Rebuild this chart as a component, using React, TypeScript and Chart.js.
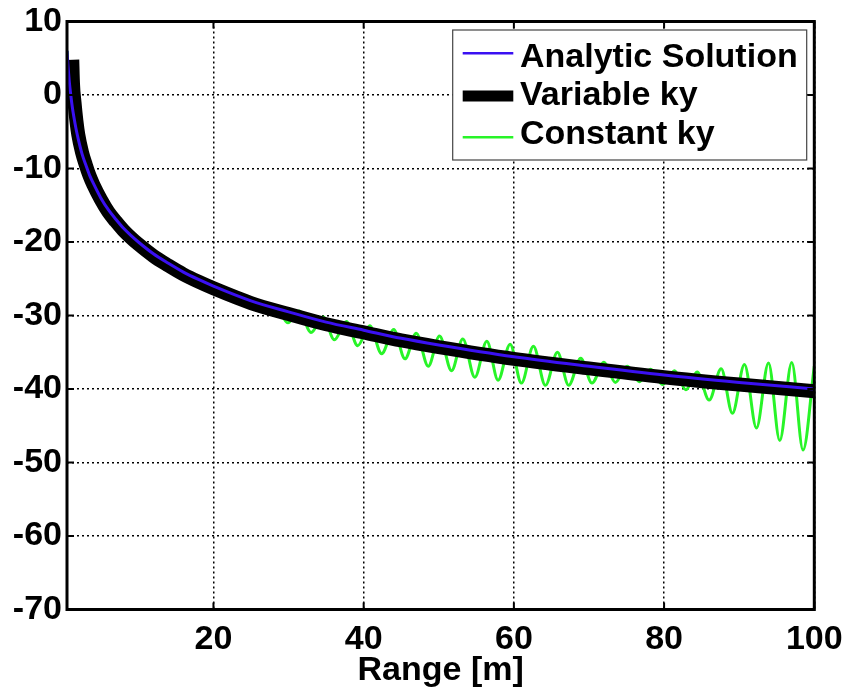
import React, { useEffect, useRef } from "react";
import { Chart, registerables } from "chart.js";

Chart.register(...registerables);

// ---- data ----
const X_TICKS = [20, 40, 60, 80, 100];
const Y_TICKS = [-70, -60, -50, -40, -30, -20, -10, 0, 10];
const X_TITLE = "Range [m]";
const LEGEND_LABELS = ["Analytic Solution", "Variable ky", "Constant ky"];

const analyticRange = [0.5, 0.6, 0.7, 0.8, 0.9, 1, 1.2, 1.4, 1.7, 2, 2.5, 3, 3.5, 4, 5, 6, 7, 8, 9, 10, 12, 14, 16, 18, 20, 25, 30, 35, 40, 45, 50, 60, 70, 80, 90, 100];
const analyticLevel = [6.0, 4.4, 3.1, 1.9, 0.9, 0.0, -1.6, -2.9, -4.6, -6.0, -8.0, -9.5, -10.9, -12.0, -14.0, -15.6, -16.9, -18.1, -19.1, -20.0, -21.6, -22.9, -24.1, -25.1, -26.0, -28.0, -29.5, -30.9, -32.0, -33.1, -34.0, -35.6, -36.9, -38.1, -39.1, -40.0];

const variableRange = [1.2, 1.3, 1.5, 1.75, 2, 2.5, 3, 3.5, 4, 5, 6, 7, 8, 9, 10, 12, 14, 16, 18, 20, 25, 30, 35, 40, 45, 50, 60, 70, 80, 90, 100];
const variableLevel = [4.8, 1.5, -1.0, -3.5, -5.4, -7.8, -9.5, -11.0, -12.2, -14.2, -15.9, -17.2, -18.4, -19.4, -20.3, -21.9, -23.2, -24.4, -25.4, -26.3, -28.3, -29.8, -31.2, -32.3, -33.4, -34.3, -35.9, -37.2, -38.4, -39.4, -40.3];

const constantRange = [0.5, 0.7, 1, 1.4, 2, 3, 4, 6, 8, 10, 14, 18, 22,
  25.2, 26.8, 28.3,
  29.9, 31.4, 33.0, 34.6, 36.1, 37.7, 39.2, 40.8, 42.4, 44.0, 45.5, 47.0, 48.6, 50.1,
  51.7, 53.2, 54.8, 56.4, 57.9, 59.5, 61.0, 62.6, 64.2, 65.8, 67.3, 68.9, 70.4, 72.0,
  73.5, 75.1, 76.7, 78.2, 79.8, 81.4, 82.9, 84.4, 86.0, 87.6, 89.1, 90.7, 92.3, 93.9,
  95.4, 97.0, 98.5, 100];
const constantLevel = [6.0, 3.1, 0.0, -2.9, -6.0, -9.5, -12.0, -15.6, -18.1, -20.0, -22.9, -25.1, -26.8,
  -27.9, -29.4, -28.75,
  -31.0, -29.4, -32.3, -30.2, -33.3, -30.8, -34.1, -31.4, -35.2, -31.9, -35.9, -32.4, -36.9, -32.8,
  -37.5, -33.2, -38.4, -33.5, -38.8, -33.9, -39.2, -34.2, -39.5, -35.0, -39.5, -35.8, -39.2, -36.35,
  -39.1, -36.9, -39.0, -37.3, -39.4, -37.5, -40.1, -37.7, -41.5, -37.25, -43.3, -36.65, -45.3, -36.45,
  -47.0, -36.4, -48.3, -36.9];

// ---- styles ----
const BLUE = "#3a10f2";
const BLACK = "#000000";
const GREEN = "#28f428";
const FONT_FAMILY = '"Liberation Sans", Arial, Helvetica, sans-serif';
const FONT_SIZE = 34;

const toPoints = (xs: number[], ys: number[]) => xs.map((x, i) => ({ x, y: ys[i] }));

const framePlugin = {
  id: "matlabFrame",
  afterDraw(chart: any) {
    const { ctx, chartArea: a, scales } = chart;
    ctx.save();
    // inward tick marks on all four sides
    ctx.strokeStyle = "#000";
    ctx.lineWidth = 2;
    ctx.setLineDash([]);
    ctx.beginPath();
    X_TICKS.forEach((v) => {
      const px = scales.x.getPixelForValue(v);
      ctx.moveTo(px, a.bottom);
      ctx.lineTo(px, a.bottom - 7);
      ctx.moveTo(px, a.top);
      ctx.lineTo(px, a.top + 7);
    });
    Y_TICKS.forEach((v) => {
      const py = scales.y.getPixelForValue(v);
      ctx.moveTo(a.left, py);
      ctx.lineTo(a.left + 7, py);
      ctx.moveTo(a.right, py);
      ctx.lineTo(a.right - 7, py);
    });
    ctx.stroke();
    // box
    ctx.lineWidth = 3;
    ctx.strokeRect(a.left, a.top, a.right - a.left, a.bottom - a.top);

    // x-axis title
    ctx.font = `bold ${FONT_SIZE}px ${FONT_FAMILY}`;
    ctx.fillStyle = "#000";
    ctx.textAlign = "center";
    ctx.textBaseline = "alphabetic";
    ctx.fillText(X_TITLE, (a.left + a.right) / 2, 680);

    // legend
    const bx = a.right - 361.6;
    const by = a.top + 8.5;
    const bw = 354;
    const bh = 130;
    ctx.fillStyle = "#fff";
    ctx.fillRect(bx, by, bw, bh);
    ctx.strokeStyle = "#444";
    ctx.lineWidth = 1.2;
    ctx.strokeRect(bx, by, bw, bh);
    const colors = [BLUE, BLACK, GREEN];
    const widths = [2.5, 11, 2.5];
    const lineY = [23.3, 66, 107.3];
    const textY = [36.7, 75, 113.5];
    LEGEND_LABELS.forEach((label, i) => {
      ctx.strokeStyle = colors[i];
      ctx.lineWidth = widths[i];
      ctx.beginPath();
      ctx.moveTo(bx + 10, by + lineY[i]);
      ctx.lineTo(bx + 60.6, by + lineY[i]);
      ctx.stroke();
      ctx.fillStyle = "#000";
      ctx.textAlign = "left";
      ctx.fillText(label, bx + 67.3, by + textY[i]);
    });
    ctx.restore();
  },
};

export default function App() {
  const ref = useRef<HTMLCanvasElement>(null);
  useEffect(() => {
    const canvas = ref.current;
    if (!canvas) return;
    const tickFont = { family: FONT_FAMILY, size: FONT_SIZE, weight: "bold" as const };
    const chart = new Chart(canvas, {
      type: "line",
      data: {
        datasets: [
          {
            label: LEGEND_LABELS[0],
            data: toPoints(analyticRange, analyticLevel),
            borderColor: BLUE,
            borderWidth: 3,
            pointRadius: 0,
            cubicInterpolationMode: "monotone",
            clip: 0,
          },
          {
            label: LEGEND_LABELS[1],
            data: toPoints(variableRange, variableLevel),
            borderColor: BLACK,
            borderWidth: 14,
            borderJoinStyle: "round",
            pointRadius: 0,
            cubicInterpolationMode: "monotone",
            clip: 0,
          },
          {
            label: LEGEND_LABELS[2],
            data: toPoints(constantRange, constantLevel),
            borderColor: GREEN,
            borderWidth: 3,
            pointRadius: 0,
            cubicInterpolationMode: "monotone",
            clip: 0,
          },
        ],
      } as any,
      options: {
        responsive: false,
        animation: false,
        devicePixelRatio: 1,
        events: [],
        layout: { padding: { top: 21.5, right: 31.7, left: 0, bottom: 0 } },
        plugins: { legend: { display: false }, tooltip: { enabled: false }, title: { display: false } },
        scales: {
          x: {
            type: "linear",
            min: 0.5,
            max: 100,
            afterBuildTicks: (s: any) => {
              s.ticks = X_TICKS.map((value) => ({ value }));
            },
            afterFit: (s: any) => {
              s.height = 77.5;
              s.paddingLeft = 0;
              s.paddingRight = 0;
              s.paddingTop = 0;
              s.paddingBottom = 0;
            },
            grid: { color: "#000", lineWidth: 1.5, drawTicks: false, tickLength: 0 },
            border: { display: false, dash: [2, 3] },
            ticks: { font: tickFont, color: "#000", padding: 10, maxRotation: 0, autoSkip: false },
          },
          y: {
            type: "linear",
            min: -70,
            max: 10,
            afterBuildTicks: (s: any) => {
              s.ticks = Y_TICKS.map((value) => ({ value }));
            },
            afterFit: (s: any) => {
              s.width = 67;
              s.paddingLeft = 0;
              s.paddingRight = 0;
              s.paddingTop = 0;
              s.paddingBottom = 0;
            },
            grid: { color: "#000", lineWidth: 1.5, drawTicks: false, tickLength: 0 },
            border: { display: false, dash: [2, 3] },
            ticks: { font: tickFont, color: "#000", padding: 5, autoSkip: false },
          },
        },
      } as any,
      plugins: [framePlugin],
    });
    return () => chart.destroy();
  }, []);
  return (
    <div style={{ position: "absolute", left: 0, top: 0, width: 846, height: 687, background: "#fff" }}>
      <canvas ref={ref} width={846} height={687} style={{ display: "block", width: 846, height: 687 }} />
    </div>
  );
}
